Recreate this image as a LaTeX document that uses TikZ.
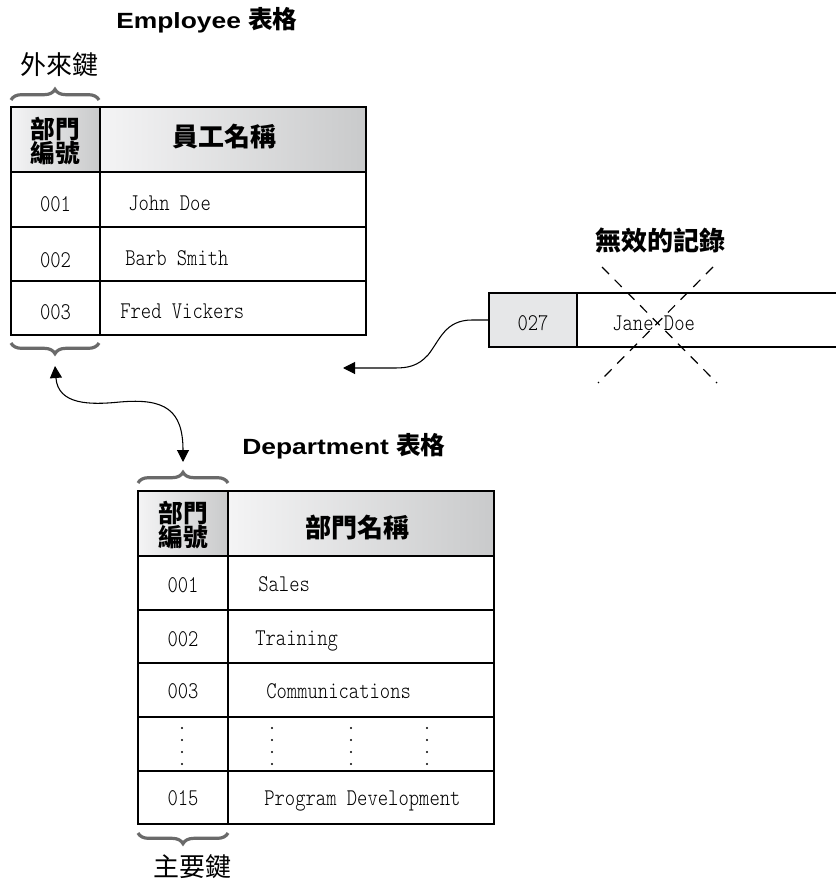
\documentclass[tikz,border=0pt]{standalone}
\usepackage{fontspec}
\usetikzlibrary{arrows.meta,decorations.pathreplacing,calc}
\newfontfamily\cjk{Noto Sans CJK TC}
\newfontfamily\ttl{Liberation Sans}[FakeStretch=1.2]
\newfontfamily\dfont{lmmonolt10-regular.otf}[FakeStretch=0.82]
\definecolor{hdl}{HTML}{F4F4F5}
\definecolor{hdr}{HTML}{C9CACB}
\definecolor{bracec}{HTML}{6A6A6A}
\definecolor{boxfill}{HTML}{E6E7E8}
\tikzset{
  thinrule/.style={line width=0.8pt},
  keyrule/.style={line width=1.7pt},
  keybrace/.style={decorate,decoration={brace,amplitude=8pt},line width=2.4pt,draw=bracec},
  datatxt/.style={font=\dfont\fontsize{18}{18}\selectfont,inner sep=0pt},
  headtxt/.style={font=\cjk\bfseries\fontsize{19.5}{20}\selectfont,inner sep=0pt},
  keyhead/.style={font=\cjk\bfseries\fontsize{18.5}{18.5}\selectfont,align=center,inner sep=0pt},
  cjklabel/.style={font=\cjk\fontsize{19.5}{20}\selectfont,inner sep=0pt},
  titletxt/.style={inner sep=0pt},
  link/.style={line width=0.8pt},
  tri/.tip={Triangle[length=9pt,width=9pt]},
  xdash/.style={line width=0.9pt,dash pattern=on 7.5pt off 6pt},
  dotc/.style={fill=black},
}
\begin{document}
\begin{tikzpicture}[x=0.75pt,y=-0.75pt]
\useasboundingbox (0,0) rectangle (836,884);

% ---------------- Employee table ----------------
\node[titletxt,anchor=base west] (etitle) at (116,29)
  {\ttl\bfseries\fontsize{16.5}{17}\selectfont Employee {\cjk\fontsize{18.5}{19}\selectfont 表格}};
\node[cjklabel] (fk) at (60,65) {外來鍵};
\draw[keybrace] (11,100) -- (99,100) coordinate[pos=0.5] (fkb);

\shade[left color=hdl,right color=hdr] (11,107) rectangle (100,172);
\shade[left color=hdl,right color=hdr] (100,107) rectangle (366,172);
\draw[thinrule] (100,107) rectangle (366,335);
\foreach \yy in {172,227,281} \draw[thinrule] (11,\yy) -- (366,\yy);
\draw[keyrule] (11,107) rectangle (100,335);

\node[keyhead] (ekh) at (55.5,141) {部門\\編號};
\node[headtxt] (enh) at (224,137) {員工名稱};

\node[datatxt,anchor=base] (e1k) at (55.5,212) {001};
\node[datatxt,anchor=base] (e2k) at (55.5,267) {002};
\node[datatxt,anchor=base] (e3k) at (55.5,319) {003};
\node[datatxt,anchor=base west] (e1n) at (128,211) {John Doe};
\node[datatxt,anchor=base west] (e2n) at (125,265) {Barb Smith};
\node[datatxt,anchor=base west] (e3n) at (120,318) {Fred Vickers};

\draw[keybrace] (99,343) -- (11,343) coordinate[pos=0.5] (ekb);
\coordinate (eatip) at (55,366);

% ---------------- invalid record ----------------
\node[cjklabel,font=\cjk\bfseries\fontsize{19.5}{20}\selectfont] (inv) at (660,240) {無效的記錄};
\draw[line width=1.4pt,fill=boxfill] (489,293) rectangle (577,347);
\draw[thinrule] (577,293) -- (836,293);
\draw[thinrule] (577,347) -- (836,347);
\node[datatxt,anchor=base] (r27) at (533,330) {027};
\node[datatxt,anchor=base west] (rjane) at (612,330) {Jane Doe};
\coordinate (rleft) at (489,320);
\coordinate (x1a) at (602,267); \coordinate (x1b) at (717,383);
\coordinate (x2a) at (713,267); \coordinate (x2b) at (598,383);
\draw[xdash] (x1a) -- (x1b);
\draw[xdash] (x2a) -- (x2b);
\coordinate (rtip) at (343,368);
\draw[link,-{tri}] (rleft) -- (472,320) .. controls (445,320) and (440,340) .. (428,355)
   .. controls (418,366) and (408,368) .. (395,368) -- (rtip);

% ---------------- Department table ----------------
\node[titletxt,anchor=base west] (dtitle) at (242,454)
  {\ttl\bfseries\fontsize{16.5}{17}\selectfont Department {\cjk\fontsize{18.5}{19}\selectfont 表格}};
\draw[keybrace] (138,483) -- (228,483) coordinate[pos=0.5] (dkb);
\coordinate (datip) at (183,462);

\draw[link,{tri}-{tri}] (eatip) .. controls (58,405) and (90,405) .. (120,402)
   .. controls (165,398) and (183,410) .. (datip);

\shade[left color=hdl,right color=hdr] (138,491) rectangle (228,556);
\shade[left color=hdl,right color=hdr] (228,491) rectangle (494,556);
\draw[thinrule] (228,491) rectangle (494,824);
\foreach \yy in {556,610,663,717,771} \draw[thinrule] (138,\yy) -- (494,\yy);
\draw[keyrule] (138,491) rectangle (228,824);

\node[keyhead] (dkh) at (183,525) {部門\\編號};
\node[headtxt] (dnh) at (357,527) {部門名稱};

\node[datatxt,anchor=base] (d1k) at (183,592) {001};
\node[datatxt,anchor=base] (d2k) at (183,646) {002};
\node[datatxt,anchor=base] (d3k) at (183,698) {003};
\node[datatxt,anchor=base] (d4k) at (183,805) {015};
\node[datatxt,anchor=base west] (d1n) at (258,591) {Sales};
\node[datatxt,anchor=base west] (d2n) at (255,645) {Training};
\node[datatxt,anchor=base west] (d3n) at (266,698) {Communications};
\node[datatxt,anchor=base west] (d4n) at (264,805) {Program Development};

\foreach \xx in {182,272,351,427}
  \foreach \yy in {728,740,752,764}
    \fill[dotc] (\xx,\yy) circle (0.9pt);

\draw[keybrace] (228,833) -- (138,833) coordinate[pos=0.5] (dbb);
\node[cjklabel] (pk) at (192,867) {主要鍵};
\end{tikzpicture}
\end{document}
